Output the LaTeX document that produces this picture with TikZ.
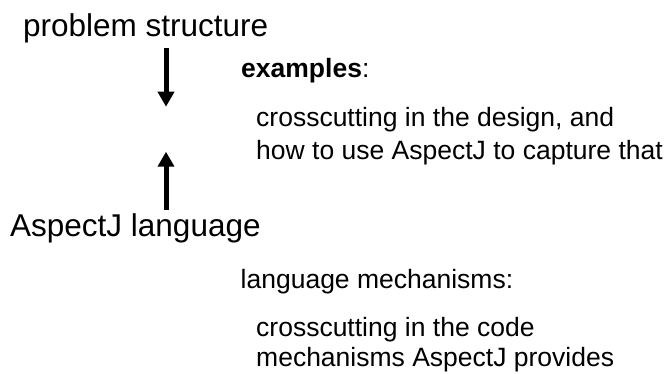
\documentclass[tikz,border=0pt]{standalone}
\usepackage{fontspec}
\setmainfont{Liberation Sans}
\usetikzlibrary{arrows.meta}
\tikzset{
  big/.style={anchor=base west, inner sep=0pt, font=\fontsize{31.5pt}{36pt}\selectfont},
  small/.style={anchor=base west, inner sep=0pt, font=\fontsize{26.5pt}{31pt}\selectfont},
  bigarrow/.style={line width=5pt, -{Triangle[width=16pt,length=15pt]}}
}
\begin{document}
\begin{tikzpicture}[x=1pt,y=-1pt]
\useasboundingbox (0,0) rectangle (669,373);
\node[big] (ps) at (23,36) {problem structure};
\node[big] (al) at (10,236) {AspectJ language};
\node[small] (ex) at (241,77.7) {\textbf{examples}:};
\node[small] (ex1) at (256,126.7) {crosscutting in the design, and};
\node[small] (ex2) at (256,159) {how to use AspectJ to capture that};
\node[small] (lm) at (240.5,288) {language mechanisms:};
\node[small] (lm1) at (256,336.7) {crosscutting in the code};
\node[small] (lm2) at (256,366.7) {mechanisms AspectJ provides};
\coordinate (dtop) at (166,48.3);
\coordinate (dtip) at (166,106.7);
\coordinate (utip) at (166,151.7);
\coordinate (ubot) at (166,210);
\draw[bigarrow] (dtop) -- (dtip);
\draw[bigarrow] (ubot) -- (utip);
\end{tikzpicture}
\end{document}
